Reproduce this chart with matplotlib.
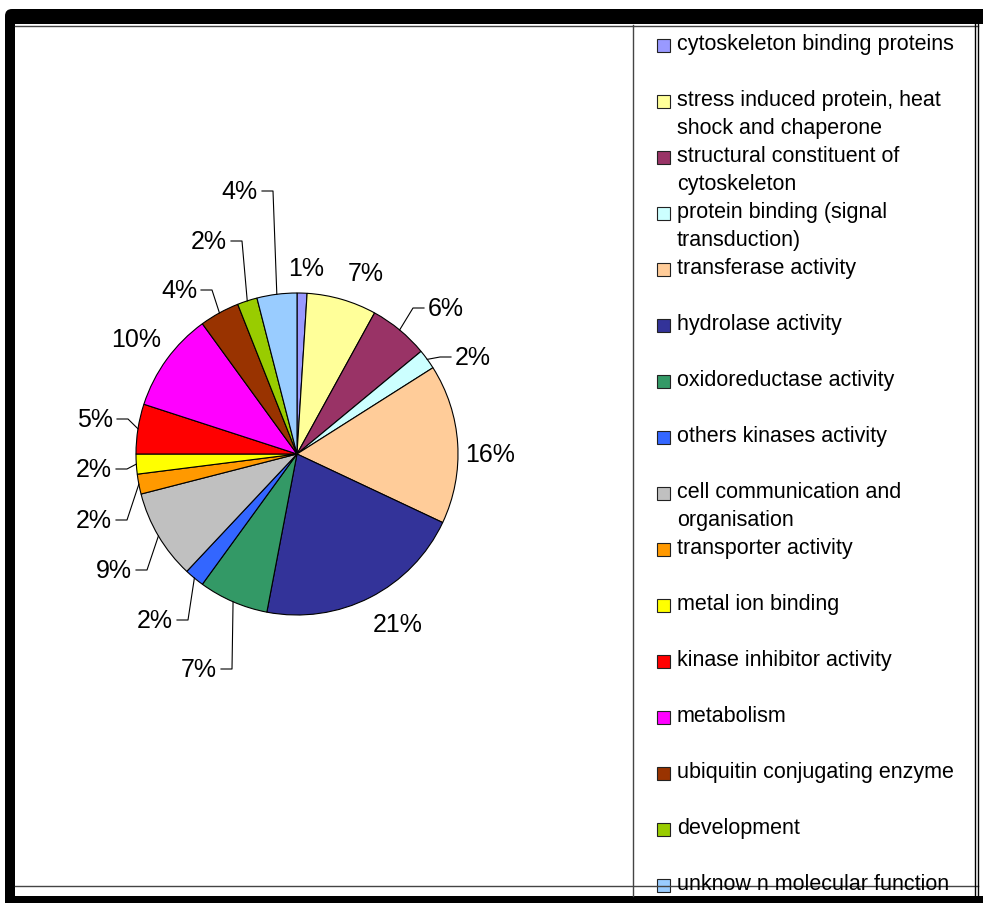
import matplotlib
matplotlib.use("Agg")
import matplotlib.pyplot as plt
from matplotlib.patches import Rectangle, FancyBboxPatch
import numpy as np

plt.rcParams['font.family'] = ['Liberation Sans', 'DejaVu Sans']

# Molecular function categories and their share of proteins (%)
categories = [
    "cytoskeleton binding proteins",
    "stress induced protein, heat\nshock and chaperone",
    "structural constituent of\ncytoskeleton",
    "protein binding (signal\ntransduction)",
    "transferase activity",
    "hydrolase activity",
    "oxidoreductase activity",
    "others kinases activity",
    "cell communication and\norganisation",
    "transporter activity",
    "metal ion binding",
    "kinase inhibitor activity",
    "metabolism",
    "ubiquitin conjugating enzyme",
    "development",
    "unknow n molecular function",
]
percentages = [1, 7, 6, 2, 16, 21, 7, 2, 9, 2, 2, 5, 10, 4, 2, 4]
colors = ["#9999FF", "#FFFF99", "#993366", "#CCFFFF", "#FFCC99", "#333399",
          "#339966", "#3366FF", "#C0C0C0", "#FF9900", "#FFFF00", "#FF0000",
          "#FF00FF", "#993300", "#99CC00", "#99CCFF"]

# Label placement (pixel offsets from pie centre, y up) and leader side:
# 0 = no leader (centred text), -1 = text left of leader, +1 = text right of leader
label_pos = [(9, 186), (69, 181), (131, 146), (158, 97), (193, 0), (101, -170),
             (-80, -215), (-124, -166), (-165, -116), (-185, -66), (-185, -15),
             (-184, 35), (-161, 115), (-100, 164), (-70, 213), (-39, 263)]
leader = [0, 0, 1, 1, 0, 0, -1, -1, -1, -1, -1, -1, 0, -1, -1, -1]

W, H = 983, 904
fig = plt.figure(figsize=(W / 100, H / 100), dpi=100)
fig.patch.set_facecolor("white")

# Overlay axes in pixel units for the frame and the legend
ov = fig.add_axes([0, 0, 1, 1])
ov.set_xlim(0, W)
ov.set_ylim(H, 0)
ov.axis("off")

ov.add_patch(FancyBboxPatch((5, 10), W + 20, H, boxstyle="round,pad=0,rounding_size=7",
                            facecolor="black", edgecolor="none"))
ov.add_patch(Rectangle((15, 25), W, 872, facecolor="white", edgecolor="none"))
line_kw = dict(color="#444444", lw=1.0)
ov.plot([15, 978], [26.5, 26.5], **line_kw)
ov.plot([15, 978], [887, 887], **line_kw)
ov.plot([633, 633], [26, 897], **line_kw)
ov.plot([975, 975], [25, 897], color="black", lw=1.0)
ov.plot([978, 978], [25, 897], color="black", lw=1.0)

# Legend entries
for i, (name, col) in enumerate(zip(categories, colors)):
    base = 50 + 56 * i
    ov.add_patch(Rectangle((657, base - 10), 13, 13, facecolor=col,
                           edgecolor="#222222", lw=0.8))
    for j, line in enumerate(name.split("\n")):
        ov.text(677, base + 28 * j, line, fontsize=15.5, va="baseline",
                ha="left", color="black")

# Pie axes, data units equal to pixels, origin at pie centre
cx, cy, R = 297, 455, 161
x0, x1, y0, y1 = 18, 633, 27, 887
ax = fig.add_axes([x0 / W, 1 - y1 / H, (x1 - x0) / W, (y1 - y0) / H])
ax.patch.set_alpha(0)
wedges, _ = ax.pie(percentages, colors=colors, startangle=90, counterclock=False,
                   radius=R, center=(0, 0),
                   wedgeprops=dict(edgecolor="black", linewidth=0.8))
ax.set_xlim(x0 - cx, x1 - cx)
ax.set_ylim(cy - y1, cy - y0)
ax.set_aspect("auto")
ax.axis("off")

total = sum(percentages)
cum = np.cumsum([0] + percentages)
for i, p in enumerate(percentages):
    mid = 90 - 360 * (cum[i] + p / 2) / total
    ex, ey = R * np.cos(np.radians(mid)), R * np.sin(np.radians(mid))
    tx, ty = label_pos[i]
    txt = f"{p}%"
    if leader[i] == 0:
        ax.text(tx, ty, txt, fontsize=18, ha="center", va="center")
    elif leader[i] < 0:
        ax.text(tx, ty, txt, fontsize=18, ha="right", va="center")
        ax.plot([tx + 4, tx + 15, ex], [ty, ty, ey], color="black", lw=0.8)
    else:
        ax.text(tx, ty, txt, fontsize=18, ha="left", va="center")
        ax.plot([tx - 4, tx - 15, ex], [ty, ty, ey], color="black", lw=0.8)

fig.savefig("out.png", dpi=100)
